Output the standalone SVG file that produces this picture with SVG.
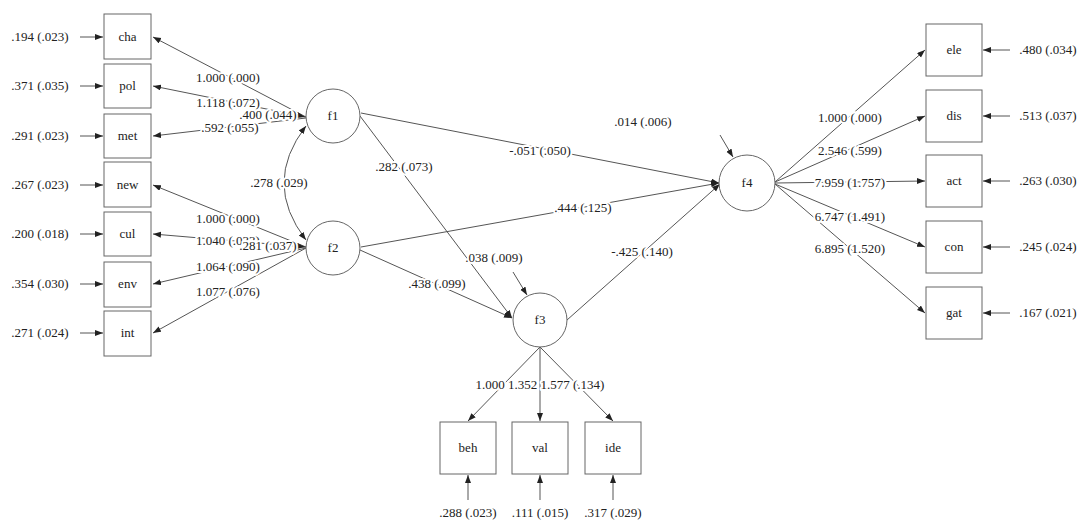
<svg xmlns="http://www.w3.org/2000/svg" width="1079" height="520" viewBox="0 0 1079 520">
<defs>
<marker id="ah" markerUnits="userSpaceOnUse" markerWidth="9" markerHeight="7" refX="8" refY="3" orient="auto-start-reverse"><path d="M0,0 L8,3 L0,6 z" fill="#222"/></marker>
<style>
text{font-family:"Liberation Serif","Times New Roman",serif;font-size:13px;fill:#222;text-anchor:middle}
.lab{stroke:#fff;stroke-width:4px;paint-order:stroke;stroke-linejoin:round}
.box{fill:#fff;stroke:#666;stroke-width:1}
.lat{fill:#fff;stroke:#666;stroke-width:1}
#connectors line,#connectors path{stroke:#555;stroke-width:1;fill:none;marker-end:url(#ah)}
</style>
</defs>
<rect width="1079" height="520" fill="#fff"/>
<g id="connectors">
<line x1="306" y1="117" x2="153" y2="37"/>
<line x1="306" y1="117" x2="153" y2="86"/>
<line x1="306" y1="118" x2="153" y2="136"/>
<line x1="306" y1="247" x2="153" y2="185"/>
<line x1="306" y1="247" x2="153" y2="234"/>
<line x1="306" y1="248" x2="153" y2="284"/>
<line x1="306" y1="248" x2="153" y2="333"/>
<line x1="297" y1="115" x2="305" y2="117"/>
<line x1="297" y1="246" x2="305" y2="247"/>
<path d="M306,126 Q262,183 306,240" style="marker-start:url(#ah)"/>
<line x1="361" y1="113" x2="719" y2="183"/>
<line x1="360" y1="116" x2="512" y2="318"/>
<line x1="361" y1="247" x2="719" y2="183"/>
<line x1="360" y1="250" x2="512" y2="318"/>
<line x1="567" y1="320" x2="720" y2="184"/>
<line x1="513" y1="272" x2="527" y2="295"/>
<line x1="720" y1="135" x2="733" y2="157"/>
<line x1="775" y1="182" x2="925" y2="50"/>
<line x1="775" y1="182" x2="925" y2="116"/>
<line x1="775" y1="183" x2="925" y2="181"/>
<line x1="775" y1="184" x2="925" y2="247"/>
<line x1="775" y1="184" x2="925" y2="313"/>
<line x1="540" y1="347" x2="468" y2="421"/>
<line x1="540" y1="347" x2="540" y2="421"/>
<line x1="540" y1="347" x2="613" y2="421"/>
<line x1="80" y1="37" x2="103" y2="37"/>
<line x1="80" y1="86" x2="103" y2="86"/>
<line x1="80" y1="136" x2="103" y2="136"/>
<line x1="80" y1="185" x2="103" y2="185"/>
<line x1="80" y1="234" x2="103" y2="234"/>
<line x1="80" y1="284" x2="103" y2="284"/>
<line x1="80" y1="333" x2="103" y2="333"/>
<line x1="1010" y1="50" x2="983" y2="50"/>
<line x1="1010" y1="116" x2="983" y2="116"/>
<line x1="1010" y1="181" x2="983" y2="181"/>
<line x1="1010" y1="247" x2="983" y2="247"/>
<line x1="1010" y1="313" x2="983" y2="313"/>
<line x1="468" y1="500" x2="468" y2="475"/>
<line x1="540" y1="500" x2="540" y2="475"/>
<line x1="613" y1="500" x2="613" y2="475"/>
</g>
<g id="labels">
<text class="lab" x="228" y="82">1.000 (.000)</text>
<text class="lab" x="228" y="107">1.118 (.072)</text>
<text class="lab" x="230" y="132">.592 (.055)</text>
<text class="lab" x="268" y="119">.400 (.044)</text>
<text class="lab" x="279" y="187">.278 (.029)</text>
<text class="lab" x="228" y="223">1.000 (.000)</text>
<text class="lab" x="228" y="245">1.040 (.033)</text>
<text class="lab" x="268" y="250">.281 (.037)</text>
<text class="lab" x="228" y="271">1.064 (.090)</text>
<text class="lab" x="228" y="296">1.077 (.076)</text>
<text class="lab" x="540" y="155">-.051 (.050)</text>
<text class="lab" x="404" y="171">.282 (.073)</text>
<text class="lab" x="583" y="212">.444 (.125)</text>
<text class="lab" x="437" y="288">.438 (.099)</text>
<text class="lab" x="494" y="262">.038 (.009)</text>
<text class="lab" x="642" y="256">-.425 (.140)</text>
<text class="lab" x="643" y="126">.014 (.006)</text>
<text class="lab" x="850" y="122">1.000 (.000)</text>
<text class="lab" x="850" y="155">2.546 (.599)</text>
<text class="lab" x="850" y="187">7.959 (1.757)</text>
<text class="lab" x="850" y="221">6.747 (1.491)</text>
<text class="lab" x="850" y="253">6.895 (1.520)</text>
<text class="lab" x="540" y="389">1.000 1.352 1.577 (.134)</text>
<text x="40" y="41">.194 (.023)</text>
<text x="40" y="90">.371 (.035)</text>
<text x="40" y="140">.291 (.023)</text>
<text x="40" y="189">.267 (.023)</text>
<text x="40" y="238">.200 (.018)</text>
<text x="40" y="288">.354 (.030)</text>
<text x="40" y="337">.271 (.024)</text>
<text x="1048" y="54">.480 (.034)</text>
<text x="1048" y="120">.513 (.037)</text>
<text x="1048" y="185">.263 (.030)</text>
<text x="1048" y="251">.245 (.024)</text>
<text x="1048" y="317">.167 (.021)</text>
<text x="468" y="517">.288 (.023)</text>
<text x="540" y="517">.111 (.015)</text>
<text x="613" y="517">.317 (.029)</text>
</g>
<g id="cha"><rect class="box" x="104" y="14" width="47" height="45"/><text x="127.5" y="41">cha</text></g>
<g id="pol"><rect class="box" x="104" y="64" width="47" height="44"/><text x="127.5" y="90">pol</text></g>
<g id="met"><rect class="box" x="104" y="114" width="47" height="44"/><text x="127.5" y="140">met</text></g>
<g id="new"><rect class="box" x="104" y="162" width="47" height="45"/><text x="127.5" y="189">new</text></g>
<g id="cul"><rect class="box" x="104" y="212" width="47" height="44"/><text x="127.5" y="238">cul</text></g>
<g id="env"><rect class="box" x="104" y="262" width="47" height="45"/><text x="127.5" y="288">env</text></g>
<g id="int"><rect class="box" x="104" y="311" width="47" height="45"/><text x="127.5" y="337">int</text></g>
<g id="ele"><rect class="box" x="926" y="24" width="56" height="52"/><text x="954" y="54">ele</text></g>
<g id="dis"><rect class="box" x="926" y="90" width="56" height="52"/><text x="954" y="120">dis</text></g>
<g id="act"><rect class="box" x="926" y="155" width="56" height="52"/><text x="954" y="185">act</text></g>
<g id="con"><rect class="box" x="926" y="221" width="56" height="52"/><text x="954" y="251">con</text></g>
<g id="gat"><rect class="box" x="926" y="287" width="56" height="52"/><text x="954" y="317">gat</text></g>
<g id="beh"><rect class="box" x="440" y="422" width="56" height="52"/><text x="468" y="452">beh</text></g>
<g id="val"><rect class="box" x="512" y="422" width="56" height="52"/><text x="540" y="452">val</text></g>
<g id="ide"><rect class="box" x="585" y="422" width="56" height="52"/><text x="613" y="452">ide</text></g>
<g id="f1"><circle class="lat" cx="333" cy="116" r="27"/><text x="333" y="120">f1</text></g>
<g id="f2"><circle class="lat" cx="333" cy="248" r="27"/><text x="333" y="252">f2</text></g>
<g id="f3"><circle class="lat" cx="540" cy="320" r="27"/><text x="540" y="324">f3</text></g>
<g id="f4"><circle class="lat" cx="747" cy="183" r="28"/><text x="747" y="187">f4</text></g>
</svg>
